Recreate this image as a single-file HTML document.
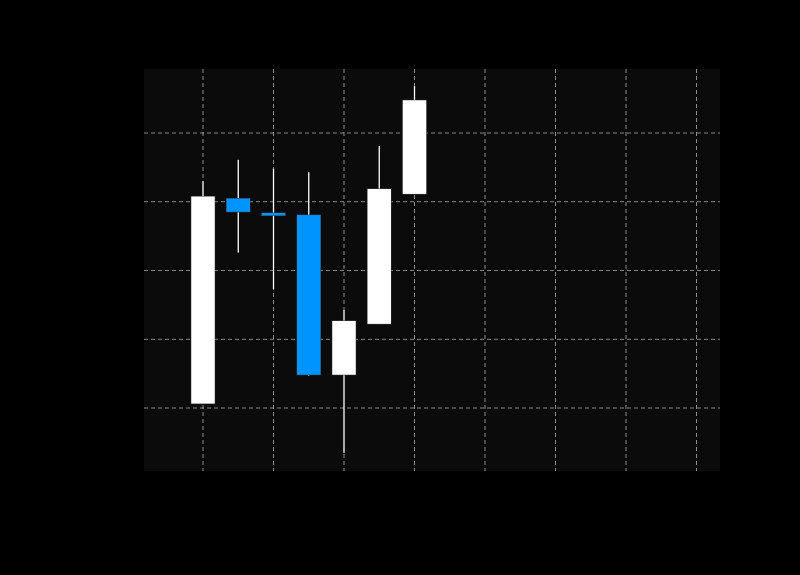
<!DOCTYPE html>
<html><head><meta charset="utf-8"><style>
html,body{margin:0;padding:0;background:#000;width:800px;height:575px;overflow:hidden}
svg{display:block}
</style></head><body>
<svg id="chart" width="800" height="575" xmlns="http://www.w3.org/2000/svg">
<rect x="0" y="0" width="800" height="575" fill="#000"/>
<rect x="144" y="69" width="576" height="402" fill="#0b0b0b"/>
<g id="grid"></g>
<g id="candles"></g>
</svg>
<script>
const categories = [0,1,2,3,4,5,6];
const opens  = [100.6,130.5,128.4,128.1,104.8,112.2,131.1];
const closes = [130.8,128.5,128.0,104.8,112.7,131.9,144.8];
const highs  = [133.0,136.1,134.8,134.3,114.3,138.1,146.8];
const lows   = [100.6,122.6,117.3,104.7,93.5,112.2,131.1];
const yTicks = [100,110,120,130,140];
const xTicks = [0,2,4,6,8,10,12,14];

const NS="http://www.w3.org/2000/svg";
const PL=144, PR=720, PT=69, PB=471;
function xs(i){return 203 + i*35.25;}
function ys(v){return 408 - (v-100)*6.875;}
function mk(tag,attrs,parent){const e=document.createElementNS(NS,tag);for(const k in attrs)e.setAttribute(k,attrs[k]);parent.appendChild(e);return e;}

const grid=document.getElementById('grid');
yTicks.forEach(v=>{
  const l=mk('line',{x1:PL,x2:PR,y1:ys(v),y2:ys(v),stroke:'#b0b0b0','stroke-width':0.8,'stroke-dasharray':'4,3'},grid);
  
  
});
xTicks.forEach(v=>{
  const x=xs(v); if(x>PR) return;
  const l=mk('line',{x1:x,x2:x,y1:PT,y2:PB,stroke:'#b0b0b0','stroke-width':0.8,'stroke-dasharray':'4,3'},grid);
  
  
});

const cg=document.getElementById('candles');
categories.forEach((c,i)=>{
  const up=closes[i]>=opens[i];
  const col=up?'#ffffff':'#0094ff';
  const g=mk('g',{},cg);
  
  
  const x=xs(c);
  const w=mk('line',{x1:x,x2:x,y1:ys(highs[i]),y2:ys(lows[i]),stroke:'#ffffff','stroke-width':1.3},g);
  
  
  const top=ys(Math.max(opens[i],closes[i])), bot=ys(Math.min(opens[i],closes[i]));
  const b=mk('rect',{x:x-12,y:top,width:24,height:Math.max(bot-top,3),fill:col,stroke:'#333','stroke-width':0.5},g);
  
  
});
</script>
</body></html>
